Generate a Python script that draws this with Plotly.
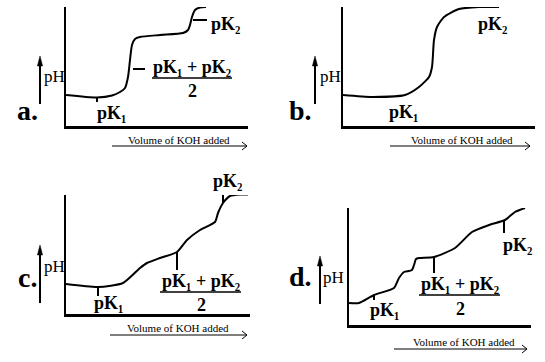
import plotly.graph_objects as go

W, H = 545, 362

# ---------------- data (volume units along x, pH units up the y axis) ----------------
a_vol = [0, 31, 46, 54, 59, 62, 64, 66, 69, 74, 94, 117, 122, 124, 126, 129, 134, 140]
a_ph = [31, 28.5, 30.5, 34, 38, 49, 66, 81, 87, 89, 91, 93, 96, 101, 109, 116, 118.5, 119]
a_tick_vol = [[31, 31], [67, 79], [127, 141]]
a_tick_ph = [[28.5, 24], [57, 57], [106, 106]]

b_vol = [0, 29, 62, 76, 86, 89, 91, 94, 101, 116, 136, 156]
b_ph = [31, 29, 31, 39, 49, 59, 86, 99, 109, 117, 119, 119]

c_vol = [0, 32, 57, 74, 81, 94, 111, 121, 134, 149, 152, 157, 164, 174, 182]
c_ph = [30, 27, 31, 46, 51, 56, 62, 74, 84, 92, 101, 111, 118, 119.5, 119.5]
c_tick_vol = [[32, 32], [111, 111], [157, 157]]
c_tick_ph = [[27, 18], [62, 44], [111, 121]]

d_vol = [0, 10, 25, 45, 50, 55, 60, 63, 65, 67, 70, 85, 106, 123, 140, 156, 166, 176]
d_ph = [22, 22, 30, 37, 47, 53, 54, 55, 60, 66, 67, 68, 77, 93, 100, 105, 113, 117]
d_tick_vol = [[25, 25], [85, 85], [155, 155]]
d_tick_ph = [[30, 25], [68, 52], [105, 92]]

x_label = "Volume of KOH added"
pk1 = "pK\u2081"
pk2 = "pK\u2082"
pk_mid = "pK\u2081 + pK\u2082"

# ---------------- layout helpers ----------------
SERIF = "Liberation Serif, Times New Roman, serif"
PK_SIZE = 18


def px(x):
    return x / W


def py(y):
    return 1 - y / H


# panel boxes in pixels: left, right, top, bottom
boxes = {
    "a": (66, 248, 7, 126),
    "b": (343, 535, 7, 126),
    "c": (66, 250, 195, 314),
    "d": (349, 531, 208, 325),
}

curves = {
    "a": (a_vol, a_ph, a_tick_vol, a_tick_ph),
    "b": (b_vol, b_ph, [], []),
    "c": (c_vol, c_ph, c_tick_vol, c_tick_ph),
    "d": (d_vol, d_ph, d_tick_vol, d_tick_ph),
}

fig = go.Figure()
layout = dict(
    width=W, height=H, margin=dict(l=0, r=0, t=0, b=0),
    paper_bgcolor="white", plot_bgcolor="rgba(0,0,0,0)", showlegend=False,
)

for i, key in enumerate(["a", "b", "c", "d"], start=1):
    l, r, t, b = boxes[key]
    sx = "" if i == 1 else str(i)
    vol, ph, tv, tp = curves[key]
    fig.add_trace(go.Scatter(
        x=vol, y=ph, mode="lines", line=dict(color="black", width=2, shape="spline", smoothing=0.6),
        xaxis="x" + sx, yaxis="y" + sx, hoverinfo="skip", cliponaxis=False))
    for xs, ys in zip(tv, tp):
        fig.add_trace(go.Scatter(
            x=xs, y=ys, mode="lines", line=dict(color="black", width=2),
            xaxis="x" + sx, yaxis="y" + sx, hoverinfo="skip", cliponaxis=False))
    layout["xaxis" + sx] = dict(
        domain=[px(l), px(r)], range=[0, r - l], anchor="y" + sx,
        showline=True, linecolor="black", linewidth=3, showgrid=False,
        zeroline=False, showticklabels=False, ticks="", fixedrange=True)
    layout["yaxis" + sx] = dict(
        domain=[py(b), py(t)], range=[0, b - t], anchor="x" + sx,
        showline=True, linecolor="black", linewidth=2, showgrid=False,
        zeroline=False, showticklabels=False, ticks="", fixedrange=True)

# overlay axes in page pixels for the decorative arrows
layout["xaxis5"] = dict(domain=[0, 1], range=[0, W], anchor="y5", visible=False, fixedrange=True)
layout["yaxis5"] = dict(domain=[0, 1], range=[H, 0], anchor="x5", visible=False, fixedrange=True)

fig.update_layout(**layout)

annotations = []
shapes = []


def text(x, y, s, size=16, bold=False):
    annotations.append(dict(
        x=px(x), y=py(y), xref="paper", yref="paper", text=("<b>%s</b>" % s) if bold else s,
        showarrow=False, xanchor="center", yanchor="middle",
        font=dict(family=SERIF, size=size, color="black")))


def up_arrow(x, y0, y1):
    fig.add_trace(go.Scatter(
        x=[x, x], y=[y0, y1 + 4], mode="lines", line=dict(color="black", width=2),
        xaxis="x5", yaxis="y5", hoverinfo="skip", cliponaxis=False))
    fig.add_trace(go.Scatter(
        x=[x - 2.6, x, x + 2.6, x - 2.6], y=[y1 + 10, y1, y1 + 10, y1 + 10], mode="lines",
        fill="toself", fillcolor="black", line=dict(color="black", width=0.5),
        xaxis="x5", yaxis="y5", hoverinfo="skip", cliponaxis=False))


def right_arrow(x0, x1, y):
    fig.add_trace(go.Scatter(
        x=[x0, x1, None, x1 - 5, x1, x1 - 5], y=[y, y, None, y - 4, y, y + 4],
        mode="lines", line=dict(color="black", width=1),
        xaxis="x5", yaxis="y5", hoverinfo="skip", cliponaxis=False))


def fraction(cx, y_num, y_bar, y_den, x0, x1):
    text(cx, y_num, pk_mid, PK_SIZE, True)
    text(cx, y_den, "2", PK_SIZE, True)
    shapes.append(dict(type="line", xref="paper", yref="paper",
                       x0=px(x0), x1=px(x1), y0=py(y_bar), y1=py(y_bar),
                       line=dict(color="black", width=1.5)))


# panel a
text(27, 111, "a.", 28, True)
text(54, 76, "pH", 17)
up_arrow(40, 104, 56)
text(111, 113, pk1, PK_SIZE, True)
text(225, 24, pk2, PK_SIZE, True)
fraction(192, 67, 78, 91, 152, 232)
text(179, 140, x_label, 11)
right_arrow(112, 247, 146)

# panel b
text(300, 111, "b.", 28, True)
text(330, 76, "pH", 17)
up_arrow(315, 104, 56)
text(403, 112, pk1, PK_SIZE, True)
text(492, 24, pk2, PK_SIZE, True)
text(462, 140, x_label, 11)
right_arrow(390, 530, 146)

# panel c
text(27, 277, "c.", 28, True)
text(54, 266, "pH", 17)
up_arrow(40, 303, 245)
text(108, 303, pk1, PK_SIZE, True)
text(227, 181, pk2, PK_SIZE, True)
fraction(201, 281, 292, 305, 160, 241)
text(178, 328, x_label, 11)
right_arrow(110, 247, 335)

# panel d
text(300, 276, "d.", 28, True)
text(333, 277, "pH", 17)
up_arrow(320, 304, 256)
text(384, 310, pk1, PK_SIZE, True)
text(517, 245, pk2, PK_SIZE, True)
fraction(460, 284, 295, 309, 419, 500)
text(464, 342, x_label, 11)
right_arrow(394, 527, 349)

fig.update_layout(annotations=annotations, shapes=shapes)
fig.write_html("out.html", config={"displayModeBar": False},
               post_script="document.body.style.margin='0';document.body.style.padding='0';")
